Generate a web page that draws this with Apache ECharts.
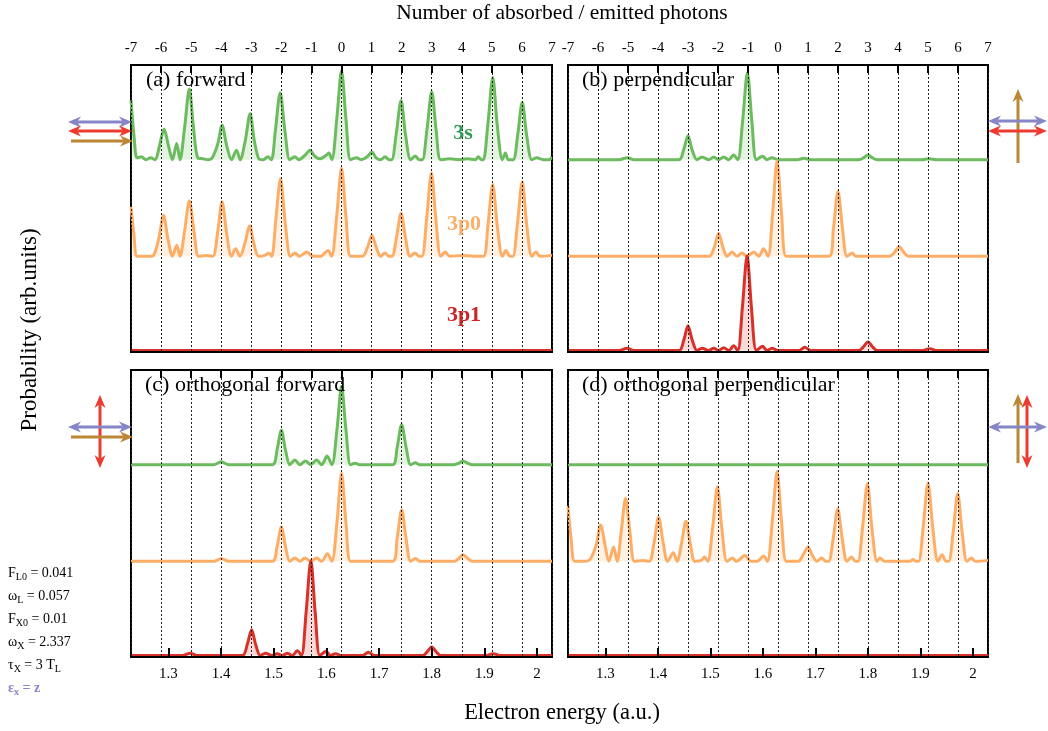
<!DOCTYPE html>
<html>
<head>
<meta charset="utf-8">
<script src="https://cdn.jsdelivr.net/npm/echarts@6/dist/echarts.min.js"></script>
<style>
html,body{margin:0;padding:0;background:#fff;}
#chart{width:1048px;height:731px;}
</style>
</head>
<body>
<div id="chart"></div>
<script>
// top axis: number of photons, bottom axis: electron energy (a.u.)
var photonMin = -7, photonMax = 7;
var energyMin = 1.229, energyMax = 2.0285;

// each curve: [photon number, probability above its own baseline]
// (a) forward
var a3s = [[-7.0,0.62],[-6.9,0.25],[-6.8,0.02],[-6.65,0.03],[-6.5,0.0],[-6.35,0.02],[-6.2,0.0],[-6.05,0.15],[-5.9,0.32],[-5.75,0.14],[-5.62,0.0],[-5.48,0.17],[-5.37,0.0],[-5.22,0.33],[-5.06,0.74],[-4.92,0.33],[-4.78,0.02],[-4.6,0.01],[-4.45,0.0],[-4.3,0.02],[-4.12,0.16],[-3.97,0.36],[-3.82,0.15],[-3.66,0.0],[-3.49,0.10],[-3.37,0.0],[-3.2,0.2],[-3.04,0.48],[-2.9,0.2],[-2.75,0.01],[-2.6,0.0],[-2.45,0.03],[-2.33,0.0],[-2.2,0.3],[-2.04,0.70],[-1.88,0.3],[-1.72,0.0],[-1.55,0.03],[-1.42,0.0],[-1.2,0.05],[-1.05,0.10],[-0.9,0.04],[-0.72,0.01],[-0.5,0.05],[-0.42,0.07],[-0.32,0.0],[-0.15,0.45],[0.0,0.93],[0.15,0.42],[0.3,0.0],[0.5,0.02],[0.65,0.0],[0.85,0.03],[1.01,0.08],[1.15,0.02],[1.3,0.0],[1.45,0.03],[1.58,0.0],[1.67,0.0],[1.82,0.27],[1.98,0.62],[2.13,0.26],[2.3,0.0],[2.45,0.04],[2.58,0.0],[2.69,0.0],[2.84,0.31],[3.0,0.71],[3.15,0.3],[3.3,0.0],[3.6,0.01],[3.9,0.0],[4.2,0.01],[4.45,0.0],[4.55,0.03],[4.65,0.0],[4.72,0.0],[4.87,0.38],[5.03,0.86],[5.18,0.36],[5.35,0.0],[5.45,0.07],[5.55,0.0],[5.71,0.0],[5.86,0.26],[6.01,0.60],[6.16,0.25],[6.33,0.0],[6.5,0.02],[6.7,0.0],[6.9,0.0],[7.0,0.03]];
var a3p0 = [[-7.0,0.52],[-6.9,0.22],[-6.8,0.0],[-6.6,0.0],[-6.4,0.0],[-6.25,0.01],[-6.08,0.18],[-5.92,0.43],[-5.77,0.18],[-5.62,0.0],[-5.48,0.115],[-5.37,0.0],[-5.22,0.26],[-5.06,0.58],[-4.9,0.25],[-4.75,0.0],[-4.5,0.01],[-4.28,0.0],[-4.12,0.25],[-3.97,0.57],[-3.82,0.24],[-3.66,0.0],[-3.52,0.08],[-3.38,0.0],[-3.21,0.14],[-3.06,0.32],[-2.91,0.13],[-2.76,0.0],[-2.55,0.01],[-2.42,0.035],[-2.32,0.0],[-2.19,0.36],[-2.03,0.81],[-1.87,0.35],[-1.7,0.0],[-1.55,0.035],[-1.4,0.0],[-1.15,0.045],[-0.95,0.0],[-0.7,0.0],[-0.45,0.06],[-0.33,0.0],[-0.16,0.42],[0.0,0.92],[0.15,0.41],[0.3,0.0],[0.55,0.0],[0.7,0.0],[0.86,0.09],[1.01,0.22],[1.16,0.09],[1.3,0.0],[1.45,0.035],[1.58,0.0],[1.68,0.0],[1.83,0.2],[1.98,0.45],[2.13,0.19],[2.28,0.0],[2.45,0.035],[2.58,0.0],[2.68,0.0],[2.83,0.39],[2.99,0.87],[3.14,0.38],[3.3,0.0],[3.45,0.045],[3.6,0.0],[4.0,0.01],[4.4,0.0],[4.72,0.0],[4.87,0.33],[5.03,0.75],[5.18,0.32],[5.35,0.0],[5.47,0.06],[5.6,0.0],[5.7,0.0],[5.85,0.34],[6.01,0.78],[6.16,0.33],[6.33,0.0],[6.47,0.045],[6.6,0.0],[7.0,0.01]];
var a3p1 = [[-7,0],[7,0]];

// (b) perpendicular
var b3s = [[-7,0],[-5.3,0],[-5.03,0.02],[-4.8,0],[-3.3,0],[-3.14,0.11],[-3.0,0.25],[-2.86,0.1],[-2.7,0.0],[-2.53,0.028],[-2.31,0.0],[-2.14,0.028],[-1.98,0.0],[-1.81,0.028],[-1.64,0.0],[-1.48,0.05],[-1.34,0.0],[-1.18,0.4],[-1.02,0.91],[-0.87,0.4],[-0.72,0.0],[-0.51,0.035],[-0.37,0.0],[-0.2,0.02],[0.0,0.0],[0.65,0.0],[0.86,0.015],[1.1,0.0],[2.7,0.0],[2.85,0.02],[3.0,0.05],[3.15,0.02],[3.3,0.0],[4.8,0.0],[5.02,0.01],[5.3,0.0],[7,0]];
var b3p0 = [[-7,0],[-2.3,0],[-2.12,0.1],[-1.98,0.24],[-1.84,0.1],[-1.7,0.0],[-1.53,0.045],[-1.37,0.0],[-1.2,0.035],[-1.03,0.0],[-0.81,0.045],[-0.64,0.0],[-0.48,0.08],[-0.33,0.0],[-0.18,0.45],[-0.03,1.0],[0.12,0.44],[0.27,0.0],[0.6,0.0],[1.7,0.0],[1.85,0.3],[2.0,0.68],[2.15,0.29],[2.3,0.0],[2.47,0.035],[2.6,0.0],[3.72,0.0],[3.88,0.04],[4.04,0.1],[4.2,0.04],[4.35,0.0],[7,0]];
var b3p1 = [[-7,0],[-5.3,0],[-5.03,0.025],[-4.8,0],[-3.3,0],[-3.14,0.11],[-3.0,0.26],[-2.86,0.11],[-2.7,0.0],[-2.53,0.025],[-2.31,0.0],[-2.14,0.025],[-1.98,0.0],[-1.81,0.03],[-1.64,0.0],[-1.48,0.05],[-1.34,0.0],[-1.19,0.44],[-1.03,0.99],[-0.88,0.43],[-0.72,0.0],[-0.51,0.045],[-0.37,0.0],[-0.2,0.025],[0.0,0.0],[0.7,0.0],[0.89,0.035],[1.1,0.0],[2.7,0.0],[2.85,0.04],[3.0,0.09],[3.15,0.04],[3.3,0.0],[4.8,0.0],[5.06,0.02],[5.3,0.0],[7,0]];

// (c) orthogonal forward
var c3s = [[-7,0],[-4.25,0],[-4.0,0.03],[-3.75,0],[-2.3,0],[-2.14,0.16],[-2.0,0.36],[-1.86,0.15],[-1.72,0.0],[-1.55,0.05],[-1.38,0.0],[-1.2,0.04],[-1.02,0.0],[-0.83,0.05],[-0.66,0.0],[-0.48,0.09],[-0.32,0.0],[-0.15,0.37],[0.0,0.82],[0.15,0.36],[0.3,0.0],[0.45,0.015],[0.6,0.0],[1.7,0.0],[1.85,0.18],[2.0,0.42],[2.15,0.18],[2.3,0.0],[2.46,0.02],[2.6,0.0],[3.75,0.0],[3.9,0.015],[4.04,0.04],[4.2,0.015],[4.35,0.0],[7,0]];
var c3p0 = [[-7,0],[-4.25,0],[-4.0,0.03],[-3.75,0],[-2.3,0],[-2.14,0.16],[-2.0,0.36],[-1.86,0.15],[-1.72,0.0],[-1.55,0.035],[-1.38,0.0],[-1.22,0.035],[-1.02,0.0],[-0.83,0.035],[-0.66,0.0],[-0.47,0.08],[-0.32,0.0],[-0.15,0.41],[0.0,0.92],[0.15,0.4],[0.3,0.0],[0.6,0.0],[1.7,0.0],[1.85,0.24],[2.0,0.54],[2.15,0.23],[2.3,0.0],[2.46,0.03],[2.6,0.0],[3.75,0.0],[3.9,0.03],[4.04,0.07],[4.2,0.03],[4.35,0.0],[7,0]];
var c3p1 = [[-7,0],[-5.3,0],[-5.03,0.025],[-4.8,0],[-3.3,0],[-3.13,0.12],[-2.99,0.27],[-2.85,0.11],[-2.7,0.0],[-2.53,0.025],[-2.31,0.0],[-2.14,0.02],[-1.98,0.0],[-1.79,0.025],[-1.64,0.0],[-1.47,0.05],[-1.33,0.0],[-1.18,0.44],[-1.02,0.99],[-0.87,0.43],[-0.72,0.0],[-0.51,0.045],[-0.37,0.0],[-0.2,0.02],[0.0,0.0],[0.7,0.0],[0.89,0.035],[1.1,0.0],[2.7,0.0],[2.85,0.04],[3.0,0.09],[3.15,0.04],[3.3,0.0],[4.8,0.0],[5.04,0.02],[5.3,0.0],[7,0]];

// (d) orthogonal perpendicular
var d3s = [[-7,0],[7,0]];
var d3p0 = [[-7,0.58],[-6.9,0.25],[-6.78,0.0],[-6.55,0.0],[-6.3,0.01],[-6.07,0.16],[-5.91,0.38],[-5.76,0.16],[-5.64,0.0],[-5.48,0.15],[-5.36,0.0],[-5.23,0.3],[-5.08,0.66],[-4.93,0.29],[-4.78,0.0],[-4.5,0.01],[-4.29,0.0],[-4.13,0.2],[-3.98,0.46],[-3.83,0.2],[-3.68,0.0],[-3.49,0.09],[-3.36,0.0],[-3.22,0.18],[-3.07,0.42],[-2.92,0.18],[-2.77,0.0],[-2.55,0.01],[-2.45,0.045],[-2.34,0.0],[-2.18,0.35],[-2.02,0.78],[-1.87,0.34],[-1.7,0.0],[-1.52,0.035],[-1.38,0.0],[-1.1,0.06],[-0.9,0.0],[-0.7,0.0],[-0.48,0.055],[-0.35,0.0],[-0.19,0.42],[-0.03,0.94],[0.12,0.41],[0.28,0.0],[0.55,0.0],[0.68,0.0],[0.84,0.07],[1.0,0.15],[1.15,0.06],[1.3,0.0],[1.45,0.035],[1.6,0.0],[1.69,0.0],[1.84,0.24],[1.99,0.55],[2.14,0.24],[2.3,0.0],[2.45,0.045],[2.58,0.0],[2.67,0.0],[2.82,0.36],[2.98,0.81],[3.13,0.35],[3.3,0.0],[3.4,0.035],[3.55,0.0],[4.4,0.0],[4.5,0.02],[4.6,0.0],[4.69,0.0],[4.84,0.36],[5.0,0.82],[5.16,0.35],[5.33,0.0],[5.47,0.07],[5.6,0.0],[5.69,0.0],[5.84,0.31],[5.99,0.71],[6.14,0.3],[6.3,0.0],[6.45,0.035],[6.58,0.0],[7,0.01]];
var d3p1 = [[-7,0],[7,0]];

var panelTitles = ['(a) forward', '(b) perpendicular', '(c) orthogonal forward', '(d) orthogonal perpendicular'];
var stateNames = ['3s', '3p0', '3p1'];
var params = [['F', 'L0', ' = 0.041'], ['\u03c9', 'L', ' = 0.057'], ['F', 'X0', ' = 0.01'], ['\u03c9', 'X', ' = 2.337'], ['\u03c4', 'X', ' = 3 T', 'L']];

// vertical offset of each state inside a panel (3s on top)
var baseline = [2.01, 1.0, 0.015];
var lineColors = ['#6cbb5e', '#fdae66', '#d7312a'];
var fillColors = ['rgba(108,187,94,0.25)', 'rgba(253,174,102,0.25)', 'rgba(215,49,42,0.25)'];
var labelColors = ['#2f9a52', '#f9b06a', '#cc2525'];
var serif = '"Liberation Serif", "DejaVu Serif", serif';

var grids = [
    {left: 131, top: 65, width: 421, height: 287},
    {left: 568, top: 65, width: 420, height: 287},
    {left: 131, top: 370, width: 421, height: 287},
    {left: 568, top: 370, width: 420, height: 287}
];
var curves = [[a3s, a3p0, a3p1], [b3s, b3p0, b3p1], [c3s, c3p0, c3p1], [d3s, d3p0, d3p1]];

var chart = echarts.init(document.getElementById('chart'));

var xAxes = [], yAxes = [], series = [];
var frameLine = {show: true, onZero: false, lineStyle: {color: '#000', width: 2}};
grids.forEach(function (gr, g) {
    gr.show = true;
    gr.borderColor = '#000';
    gr.borderWidth = 2;
    // photon axis on top with dotted grid lines
    xAxes.push({
        gridIndex: g, type: 'value', position: 'top',
        min: photonMin, max: photonMax, interval: 1,
        axisLine: frameLine,
        axisTick: {show: true, inside: true, length: 8, lineStyle: {color: '#000', width: 2}},
        axisLabel: {show: g < 2, color: '#000', fontSize: 15, fontFamily: serif, margin: 9},
        splitLine: {show: true, lineStyle: {color: '#222', type: [2, 2], width: 1}},
        z: 10
    });
    // energy axis at the bottom
    xAxes.push({
        gridIndex: g, type: 'value', position: 'bottom',
        min: energyMin, max: energyMax, splitNumber: 8,
        axisLine: frameLine,
        axisTick: {show: g >= 2, inside: true, length: 9, lineStyle: {color: '#000', width: 2}},
        axisLabel: {show: g >= 2, color: '#000', fontSize: 15, fontFamily: serif, margin: 10, showMinLabel: false, showMaxLabel: false},
        splitLine: {show: false},
        z: 10
    });
    yAxes.push({gridIndex: g, type: 'value', min: 0, max: 3, show: false});

    curves[g].forEach(function (pts, k) {
        series.push({
            type: 'line',
            xAxisIndex: 2 * g,
            yAxisIndex: g,
            data: pts.map(function (p) { return [p[0], p[1] + baseline[k]]; }),
            smooth: 0.3,
            symbol: 'none',
            silent: true,
            lineStyle: {color: lineColors[k], width: 3},
            areaStyle: {color: fillColors[k], origin: baseline[k]},
            z: 3 + k
        });
    });
});

function arrow(x1, y1, x2, y2, color, both) {
    var dx = x2 - x1, dy = y2 - y1, len = Math.sqrt(dx * dx + dy * dy);
    var ux = dx / len, uy = dy / len, px = -uy, py = ux;
    var hl = 13, hw = 5.5, inset = hl * 0.7;
    function head(tx, ty, vx, vy) {
        return {
            type: 'polygon', z: 20,
            shape: {points: [[tx, ty], [tx - vx * hl + px * hw, ty - vy * hl + py * hw],
                [tx - vx * hl * 0.7, ty - vy * hl * 0.7], [tx - vx * hl - px * hw, ty - vy * hl - py * hw]]},
            style: {fill: color}
        };
    }
    var els = [{
        type: 'line', z: 20,
        shape: {x1: both ? x1 + ux * inset : x1, y1: both ? y1 + uy * inset : y1, x2: x2 - ux * inset, y2: y2 - uy * inset},
        style: {stroke: color, lineWidth: 3}
    }];
    els.push(head(x2, y2, ux, uy));
    if (both) els.push(head(x1, y1, -ux, -uy));
    return els;
}

var purple = '#8585c8', red = '#ec3a2e', brown = '#bb8734';
var graphic = [];
function text(x, y, str, opt) {
    var st = {text: str, fill: '#000', fontFamily: serif, fontSize: 22, align: 'center', verticalAlign: 'middle'};
    for (var key in opt) st[key] = opt[key];
    return {type: 'text', x: x, y: y, z: 30, style: st};
}

graphic.push(text(562, 13, 'Number of absorbed / emitted photons', {fontSize: 21.5}));
graphic.push(text(562, 713, 'Electron energy (a.u.)', {fontSize: 22.5}));
var ylab = text(30, 330, 'Probability (arb.units)', {fontSize: 23});
ylab.rotation = Math.PI / 2;
graphic.push(ylab);

var titlePos = [[146, 80], [582, 80], [145, 385], [582, 385]];
panelTitles.forEach(function (t, i) {
    graphic.push(text(titlePos[i][0], titlePos[i][1], t, {align: 'left', fontSize: 22}));
});
var statePos = [[463, 133], [464, 224], [464, 315]];
stateNames.forEach(function (s, k) {
    graphic.push(text(statePos[k][0], statePos[k][1], s, {fontSize: 22, fontWeight: 'bold', fill: labelColors[k]}));
});

// simulation parameters, bottom left
var rich = {
    m: {fontSize: 14, lineHeight: 19, fontFamily: serif, fill: '#000', color: '#000'},
    s: {fontSize: 10, lineHeight: 11, verticalAlign: 'bottom', fontFamily: serif, fill: '#000', color: '#000'},
    pm: {fontSize: 14, lineHeight: 19, fontFamily: serif, fontWeight: 'bold', fill: '#8a86c6', color: '#8a86c6'},
    ps: {fontSize: 10, lineHeight: 11, verticalAlign: 'bottom', fontFamily: serif, fontWeight: 'bold', fill: '#8a86c6', color: '#8a86c6'}
};
var paramY = [573, 596, 619, 642, 665];
params.forEach(function (p, i) {
    var str = '{m|' + p[0] + '}{s|' + p[1] + '}{m|' + p[2] + '}' + (p[3] ? '{s|' + p[3] + '}' : '');
    graphic.push({type: 'text', x: 8, y: paramY[i], z: 30, style: {text: str, rich: rich, align: 'left', verticalAlign: 'middle'}});
});
graphic.push({type: 'text', x: 8, y: 688, z: 30, style: {text: '{pm|\u03b5}{ps|x}{pm| = z}', rich: rich, align: 'left', verticalAlign: 'middle'}});

// laser polarisation arrows
graphic = graphic
    .concat(arrow(68, 122, 132, 122, purple, true))
    .concat(arrow(68, 131, 132, 131, red, true))
    .concat(arrow(71, 141, 133, 141, brown, false))
    .concat(arrow(1018, 163, 1018, 89, brown, false))
    .concat(arrow(988, 121, 1047, 121, purple, true))
    .concat(arrow(988, 131, 1047, 131, red, true))
    .concat(arrow(100, 395, 100, 468, red, true))
    .concat(arrow(68, 427, 132, 427, purple, true))
    .concat(arrow(71, 437, 133, 437, brown, false))
    .concat(arrow(1018, 463, 1018, 394, brown, false))
    .concat(arrow(1027, 395, 1027, 468, red, true))
    .concat(arrow(988, 427, 1047, 427, purple, true));

chart.setOption({
    backgroundColor: '#fff',
    animation: false,
    grid: grids,
    xAxis: xAxes,
    yAxis: yAxes,
    series: series,
    graphic: graphic
});
</script>
</body>
</html>
